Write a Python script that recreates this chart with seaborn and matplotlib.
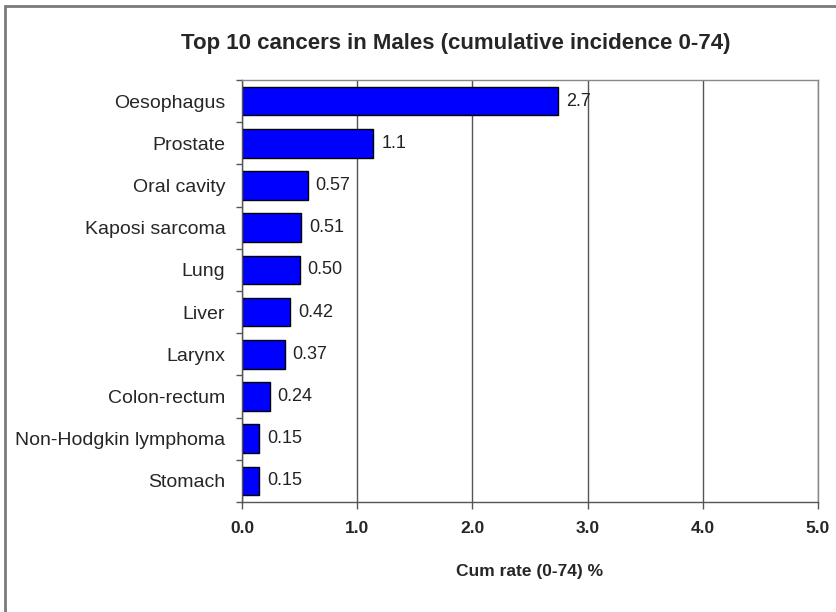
import numpy as np
import pandas as pd
import matplotlib
matplotlib.use("Agg")
import matplotlib.pyplot as plt
import matplotlib.patches as mpatches
import seaborn as sns

# Cumulative incidence (0-74) for the ten most frequent cancers in males
sites = ["Oesophagus", "Prostate", "Oral cavity", "Kaposi sarcoma", "Lung",
         "Liver", "Larynx", "Colon-rectum", "Non-Hodgkin lymphoma", "Stomach"]
cum_rate = [2.74, 1.14, 0.57, 0.51, 0.50, 0.42, 0.37, 0.24, 0.15, 0.15]
xticks = [0.0, 1.0, 2.0, 3.0, 4.0, 5.0]

df = pd.DataFrame({"site": sites, "rate": cum_rate})

sns.set_theme(style="white")
plt.rcParams["font.family"] = ["Liberation Sans", "DejaVu Sans"]

W, H = 837, 612
fig = plt.figure(figsize=(W / 100, H / 100), dpi=100)
fig.patch.set_facecolor("white")

# outer chart frame
fig.patches.append(mpatches.Rectangle((5 / W, -0.05), 1.1, 1 - 6 / H + 0.05,
                                      transform=fig.transFigure, fill=False,
                                      edgecolor="#7a7a7a", linewidth=2.0))

ax = fig.add_axes([242 / W, 1 - 502 / H, (818 - 242) / W, (502 - 80) / H])
sns.barplot(data=df, x="rate", y="site", orient="h", color="#0000FF",
            saturation=1, edgecolor="black", linewidth=1.0, width=0.68, ax=ax)

ax.set_xlim(0, 5)
ax.set_ylim(9.5, -0.5)
ax.set_xticks(xticks)
ax.set_xticklabels([f"{t:.1f}" for t in xticks], fontsize=12.5, fontweight="bold")
ax.xaxis.grid(True, color="#555555", linewidth=1.0)
ax.set_axisbelow(True)

# tick marks sit between categories on the y axis
ax.set_yticks(np.arange(len(sites)))
ax.set_yticklabels(sites, fontsize=14)
ax.set_yticks(np.arange(-0.5, len(sites)), minor=True)
ax.tick_params(axis="y", which="major", length=0, pad=12)
ax.tick_params(axis="y", which="minor", left=True, length=4, width=1, color="#555555")
ax.tick_params(axis="x", which="major", bottom=True, length=5, width=1,
               color="#555555", pad=9)

for s in ["left", "bottom", "top", "right"]:
    ax.spines[s].set_visible(True)
    ax.spines[s].set_color("#555555")
    ax.spines[s].set_linewidth(1.0)
ax.spines["top"].set_color("#888888")
ax.spines["right"].set_color("#888888")

# value labels, two significant digits
for i, v in enumerate(cum_rate):
    ax.text(v + 0.07, i, f"{v:.2g}" if v >= 1 else f"{v:.2f}",
            va="center", ha="left", fontsize=13, color="#222222")

ax.set_xlabel("Cum rate (0-74) %", fontsize=12.5, fontweight="bold", labelpad=20)
ax.set_ylabel("")

fig.text(456 / W, 1 - 43 / H, "Top 10 cancers in Males (cumulative incidence 0-74)",
         ha="center", va="center", fontsize=16, fontweight="bold")

fig.savefig("out.png", dpi=100)
